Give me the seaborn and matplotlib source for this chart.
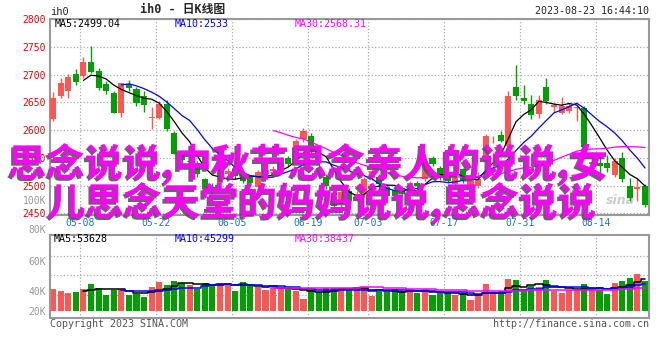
import matplotlib
matplotlib.use("Agg")
import matplotlib.pyplot as plt
import matplotlib.patheffects as pe
import numpy as np
import pandas as pd
import seaborn as sns

# daily K-line data (79 trading days)
opens = [2620, 2662, 2670, 2701, 2698, 2723, 2707, 2683, 2667, 2631,
         2683, 2674, 2661, 2622, 2621, 2647, 2595, 2556, 2543, 2540,
         2511, 2498, 2505, 2520, 2529, 2520, 2515, 2498, 2520, 2526,
         2530, 2550, 2550, 2583, 2590, 2532, 2515, 2480, 2466, 2490,
         2476, 2484, 2514, 2516, 2498, 2492, 2490, 2493, 2505, 2511,
         2550, 2532, 2523, 2502, 2529, 2499, 2499, 2544, 2583, 2591,
         2571, 2678, 2658, 2647, 2629, 2678, 2642, 2631, 2634, 2640,
         2640, 2539, 2540, 2541, 2519, 2550, 2500, 2493, 2499]
closes = [2658, 2684, 2696, 2686, 2723, 2705, 2676, 2670, 2631, 2684,
          2676, 2649, 2646, 2623, 2647, 2601, 2557, 2546, 2544, 2520,
          2494, 2490, 2530, 2526, 2517, 2508, 2505, 2524, 2528, 2529,
          2548, 2538, 2580, 2599, 2560, 2520, 2500, 2464, 2488, 2472,
          2484, 2511, 2526, 2502, 2481, 2482, 2484, 2505, 2499, 2541,
          2538, 2514, 2508, 2514, 2508, 2514, 2511, 2589, 2584, 2580,
          2661, 2661, 2653, 2628, 2655, 2652, 2646, 2643, 2643, 2641,
          2569, 2543, 2536, 2531, 2544, 2511, 2478, 2497, 2465]
highs = [2668, 2693, 2701, 2710, 2732, 2752, 2712, 2688, 2671, 2685,
         2690, 2677, 2670, 2641, 2652, 2655, 2599, 2560, 2553, 2545,
         2514, 2505, 2533, 2532, 2545, 2524, 2518, 2528, 2533, 2536,
         2552, 2554, 2584, 2604, 2594, 2540, 2520, 2486, 2492, 2496,
         2490, 2515, 2530, 2520, 2502, 2496, 2494, 2509, 2509, 2545,
         2553, 2535, 2527, 2517, 2532, 2518, 2524, 2592, 2589, 2599,
         2670, 2717, 2682, 2663, 2663, 2693, 2649, 2659, 2649, 2643,
         2643, 2560, 2558, 2555, 2550, 2561, 2514, 2514, 2502]
lows = [2617, 2658, 2658, 2682, 2693, 2702, 2672, 2665, 2630, 2624,
        2670, 2644, 2633, 2601, 2619, 2599, 2556, 2540, 2532, 2516,
        2478, 2484, 2500, 2515, 2512, 2504, 2500, 2494, 2515, 2520,
        2526, 2535, 2548, 2578, 2556, 2515, 2494, 2460, 2462, 2468,
        2472, 2480, 2510, 2490, 2476, 2478, 2479, 2490, 2495, 2508,
        2535, 2510, 2504, 2499, 2504, 2496, 2496, 2542, 2576, 2579,
        2570, 2655, 2647, 2619, 2622, 2647, 2633, 2629, 2631, 2616,
        2568, 2535, 2520, 2524, 2515, 2506, 2472, 2472, 2461]
volumes = [36890, 33490, 30600, 32300, 36890, 45900, 39100, 26690, 34510, 36890,
           26690, 27710, 23800, 40290, 49300, 43690, 51000, 47600, 43690, 36890,
           47600, 45900, 47600, 45900, 33490, 49300, 41990, 39610, 35190, 40800,
           37910, 39610, 34000, 19890, 35190, 32300, 37910, 39100, 39100, 35190,
           39100, 39100, 25500, 33490, 32300, 36210, 33490, 33490, 30600, 36890,
           26690, 29410, 29410, 26690, 29410, 18190, 28390, 45900, 27710, 33490,
           53890, 52190, 35190, 41990, 39610, 52190, 34000, 30600, 35190, 36210,
           45900, 39610, 35190, 28390, 47600, 51000, 56100, 62900, 50490]

date_ticks = [3.55, 13.55, 23.55, 33.55, 41.5, 51.5, 61.5, 71.5]
date_labels = ['05-08', '05-22', '06-05', '06-19', '07-03', '07-17', '07-31', '08-14']
price_ticks = [2450, 2500, 2550, 2600, 2650, 2700, 2750, 2800]
vol_label_vals = [0, 33500, 84500]
vol_labels = ['20K', '40K', '60K']
vol_grid = [26000, 60000, 93500]
title_lines = ['思念说说,中秋节思念亲人的说说,女', '儿思念天堂的妈妈说说,思念说说']

RED = '#ff5555'
GREEN = '#00a000'
GRID = '#aaaaaa'
FRAME = '#999999'

sns.set_style('white')
plt.rcParams['font.family'] = ['DejaVu Sans Mono', 'Noto Sans CJK SC']

df = pd.DataFrame({'open': opens, 'close': closes, 'high': highs,
                   'low': lows, 'volume': volumes})
df['idx'] = np.arange(len(df))
df['dir'] = np.where(df['close'] >= df['open'], 'up', 'down')
df['color'] = np.where(df['dir'] == 'up', RED, GREEN)
df['body_low'] = df[['open', 'close']].min(axis=1)
df['body_h'] = (df['close'] - df['open']).abs().clip(lower=1.5)
for n in (5, 10, 30):
    df[f'ma{n}'] = df['close'].rolling(n).mean()
    df[f'vma{n}'] = df['volume'].rolling(n).mean()

W, H = 660, 360
fig = plt.figure(figsize=(W / 100, H / 100), dpi=100)


def fx(x):
    return x / W


def fy(y):
    return 1 - y / H


ax = fig.add_axes([fx(50), fy(215), 599 / W, 196 / H])
axv = fig.add_axes([fx(50), fy(318), 599 / W, 83 / H])
xlim = (-0.395, 78.52)

# price panel
ax.vlines(df['idx'], df['low'], df['high'], colors=df['color'], lw=1, zorder=2)
ax.bar(df['idx'], df['body_h'], bottom=df['body_low'], width=0.8,
       color=df['color'], lw=0, zorder=3)
for col, c in (('ma5', 'black'), ('ma10', '#0000ff'), ('ma30', '#ff00ff')):
    sns.lineplot(data=df, x='idx', y=col, color=c, lw=0.9, ax=ax, zorder=4)
ax.set_xlim(*xlim)
ax.set_ylim(2447, 2800)
ax.set_yticks(price_ticks)
ax.set_xticks(date_ticks, labels=date_labels)
ax.tick_params(axis='y', length=0, pad=3, labelsize=7, labelcolor='#ee0000')
ax.tick_params(axis='x', length=0, pad=2.5, labelsize=7, labelcolor='#1874cd')
ax.set_xlabel('')
ax.set_ylabel('')
ax.grid(True, color=GRID, linestyle=':', lw=0.9)
ax.text(fx(620), fy(200), 'sina', transform=fig.transFigure, color='#cccccc',
        fontsize=9, style='italic', weight='bold', family='DejaVu Sans',
        ha='center', va='center', zorder=1)

# volume panel
sns.barplot(data=df, x='idx', y='volume', hue='dir',
            palette={'up': RED, 'down': GREEN}, native_scale=True,
            width=0.8, dodge=False, legend=False, errorbar=None,
            saturation=1, linewidth=0, ax=axv, zorder=2)
for col, c in (('vma5', 'black'), ('vma10', '#0000ff'), ('vma30', '#ff00ff')):
    sns.lineplot(data=df, x='idx', y=col, color=c, lw=1.1, ax=axv,
                 drawstyle='steps-mid', zorder=4)
axv.set_xlim(*xlim)
axv.set_ylim(-12400, 128700)
axv.set_xticks(date_ticks, labels=[])
axv.set_yticks(vol_label_vals, labels=vol_labels)
axv.tick_params(length=0, pad=3, labelsize=7, labelcolor=FRAME)
axv.set_xlabel('')
axv.set_ylabel('')
axv.grid(True, axis='x', color=GRID, linestyle=':', lw=0.9)
for g in vol_grid:
    axv.axhline(g, color=GRID, linestyle=':', lw=0.9, zorder=0)

for a in (ax, axv):
    for s in a.spines.values():
        s.set_color(FRAME)
        s.set_linewidth(1.5)
    a.set_axisbelow(True)

# header and legends
fig.text(fx(50), fy(12), 'ih0', fontsize=7.5, va='center')
fig.text(fx(140), fy(10), 'ih0 - 日K线图', fontsize=8.5, va='center', weight='bold')
fig.text(fx(649), fy(11.5), '2023-08-23 16:44:10', fontsize=7.2, ha='right', va='center')
for x, s, c in ((55, 'MA5:2499.04', 'black'), (175, 'MA10:2533', '#0000ff'),
                (295, 'MA30:2568.31', '#ff00ff')):
    fig.text(fx(x), fy(24), s, fontsize=7.2, color=c, va='center')
for x, s, c in ((54, 'MA5:53628', 'black'), (175, 'MA10:45299', '#0000ff'),
                (295, 'MA30:38437', '#ff00ff')):
    fig.text(fx(x), fy(238.5), s, fontsize=7.2, color=c, va='center')
fig.text(fx(46), fy(200.7), '100K', fontsize=7, ha='right', va='center', color=FRAME)
fig.text(fx(46), fy(230), '80K', fontsize=7, ha='right', va='center', color=FRAME)
fig.text(fx(50), fy(324), 'Copyright 2023 SINA.COM', fontsize=7.2, va='center', color='#555555')
fig.text(fx(649), fy(324), 'http://finance.sina.com.cn', fontsize=7.2, ha='right',
         va='center', color='#555555')

# big overlay title
shadow = [pe.withSimplePatchShadow(offset=(-1.5, -1.5), shadow_rgbFace='#555555', alpha=0.9)]
for (x, y), line in zip(((8, 164), (47, 203)), title_lines):
    fig.text(fx(x), fy(y), line, fontsize=27.6, color='#ff00ff', weight='bold',
             family=['Noto Sans CJK SC', 'DejaVu Sans'], ha='left', va='center',
             path_effects=shadow)

fig.savefig('out.png', dpi=100)
